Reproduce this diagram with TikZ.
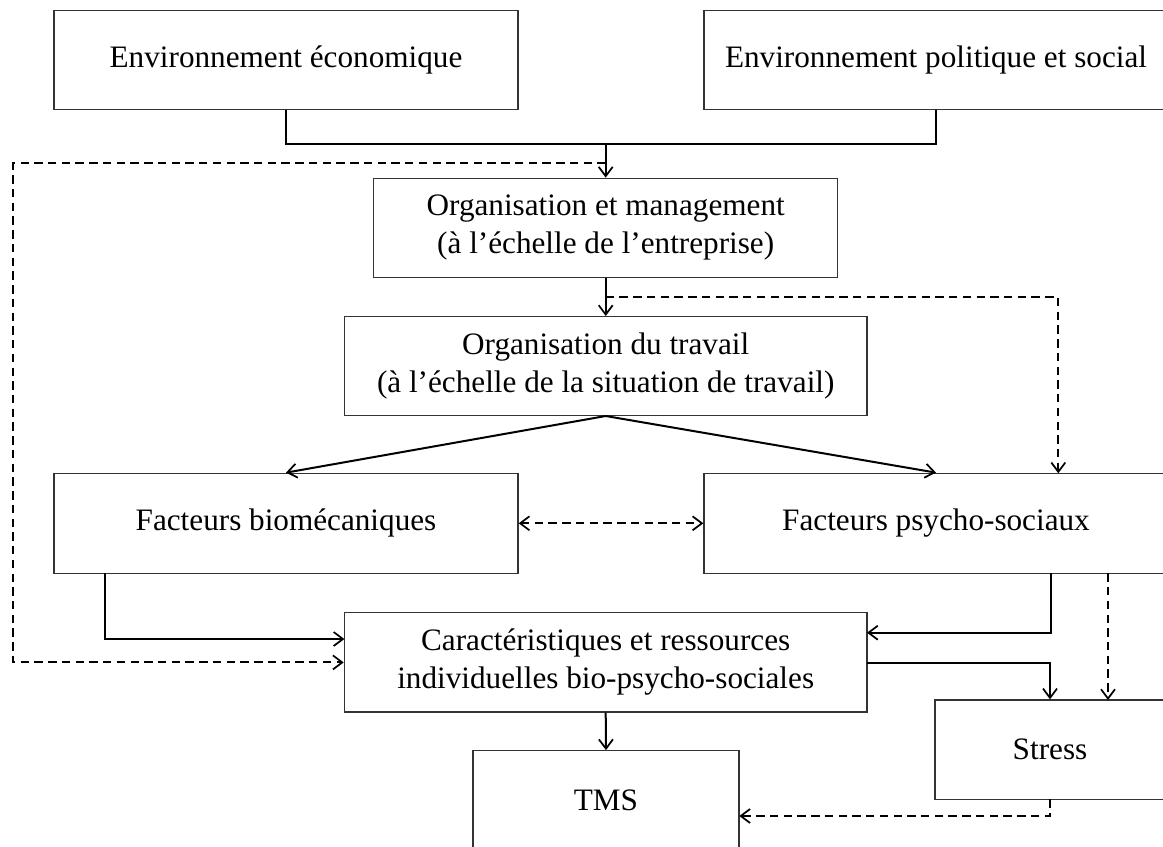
\documentclass[tikz,border=0pt]{standalone}
\usepackage{fontspec}
\setmainfont{Liberation Serif}
\usetikzlibrary{arrows.meta}
\begin{document}
\begin{tikzpicture}[x=0.75pt,y=-0.75pt,
  box/.style={draw=black!80,line width=1pt,rectangle,align=center,inner sep=0pt,
    font=\fontsize{23.4}{28.5}\selectfont},
  tip/.style={-{Straight Barb[length=7pt,width=10.5pt,line width=1.3pt]}},
  conn/.style={line width=1.5pt,tip},
  plain/.style={line width=1.5pt},
  dsh/.style={line width=1.4pt,dash pattern=on 6.3pt off 4pt,tip},
  dshboth/.style={line width=1.4pt,dash pattern=on 6.3pt off 4pt,{Straight Barb[length=7pt,width=10.5pt,line width=1.3pt]}-{Straight Barb[length=7pt,width=10.5pt,line width=1.3pt]}}
]
\useasboundingbox (0,0) rectangle (1163,846);
\clip (0,0) rectangle (1163,846);

\node[box,minimum width=348pt,minimum height=74pt] (env1) at (286,60) {Environnement économique};
\node[box,minimum width=348pt,minimum height=74pt] (env2) at (936,60) {Environnement politique et social};
\node[box,minimum width=348pt,minimum height=74.25pt] (orgm) at (605.7,227.8) {Organisation et management\\(à l’échelle de l’entreprise)};
\node[box,minimum width=392pt,minimum height=74pt] (orgt) at (605.7,366) {Organisation du travail\\(à l’échelle de la situation de travail)};
\node[box,minimum width=348pt,minimum height=75pt] (bio) at (286,523.3) {Facteurs biomécaniques};
\node[box,minimum width=348pt,minimum height=75pt] (psy) at (936,523.3) {Facteurs psycho-sociaux};
\node[box,minimum width=392pt,minimum height=74.5pt] (car) at (605.7,662.4) {Caractéristiques et ressources\\individuelles bio-psycho-sociales};
\node[box,minimum width=199.5pt,minimum height=75pt] (tms) at (606,800.8) {TMS};
\node[box,minimum width=172.5pt,minimum height=74.5pt] (stress) at (1050,749.7) {Stress};

% junction coordinates
\coordinate (j) at (605.7,144.3);
\coordinate (d1) at (605.7,163.3);
\coordinate (dl) at (13.4,163.3);
\coordinate (d2) at (605.7,297.3);
\coordinate (pn) at (1058.3,473.3);
\coordinate (b1) at (104.5,573.3);
\coordinate (c1) at (344.4,639);
\coordinate (p1) at (1050.6,573.3);
\coordinate (c2) at (867,632.7);
\coordinate (p2) at (1108,573.3);
\coordinate (s1) at (1108,700);
\coordinate (c3) at (867,663.3);
\coordinate (s2) at (1050,799.3);
\coordinate (t1) at (739.3,816);

\draw[plain] (env1.south) |- (j);
\draw[plain] (env2.south) |- (j);
\draw[conn] (j) -- (orgm.north);
\draw[dsh] (d1) -- (dl) |- (car.west);
\draw[conn] (orgm.south) -- (orgt.north);
\draw[dsh] (d2) -| (pn);
\draw[conn] (orgt.south) -- (bio.north);
\draw[conn] (orgt.south) -- (psy.north);
\draw[dshboth] (bio.east) -- (psy.west);
\draw[conn] (b1) |- (c1);
\draw[conn] (p1) |- (c2);
\draw[dsh] (p2) -- (s1);
\draw[conn] (c3) -| (stress.north);
\draw[conn] (car.south) -- (tms.north);
\draw[dsh] (s2) |- (t1);
\end{tikzpicture}
\end{document}
